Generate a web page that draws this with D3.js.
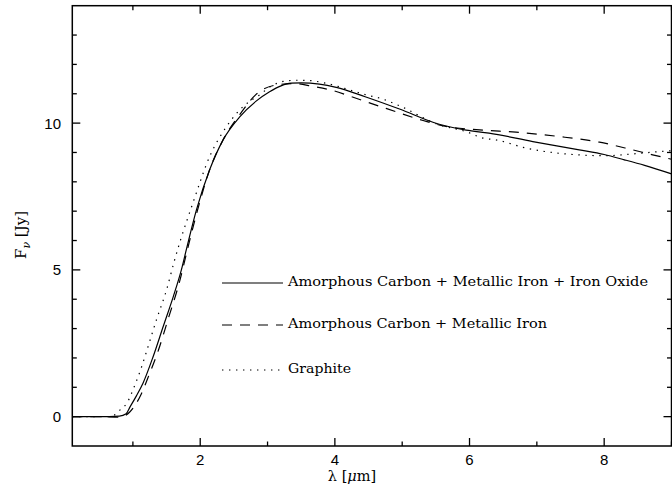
<!DOCTYPE html>
<html><head><meta charset="utf-8">
<script src="https://cdn.jsdelivr.net/npm/d3@7"></script>
<style>body{margin:0;background:#fff}svg{display:block}</style>
</head><body>
<svg id="c" width="672" height="487"></svg>
<script>
// ---- data ----
const seriesNames = ["Amorphous Carbon + Metallic Iron + Iron Oxide", "Amorphous Carbon + Metallic Iron", "Graphite"];
const solidX = [0.1,0.5,0.8,0.9,0.96,1.05,1.15,1.30,1.45,1.60,1.72,1.80,1.945,2.14,2.34,2.59,2.83,3.03,3.2,3.35,3.5,3.77,4.02,4.45,4.96,5.55,5.95,6.29,6.94,7.63,8.0,8.3,8.6,9.0];
const solidY = [0,0,0.02,0.1,0.34,0.7,1.14,2.04,3.07,4.09,5.0,5.75,7.05,8.41,9.43,10.22,10.75,11.07,11.27,11.36,11.37,11.33,11.22,10.9,10.48,9.96,9.76,9.66,9.37,9.09,8.93,8.75,8.56,8.27];
const dashX = [0.1,0.5,0.8,0.95,1.05,1.13,1.25,1.38,1.52,1.70,1.80,1.95,2.14,2.34,2.59,2.83,3.13,3.4,3.67,3.97,4.22,4.76,5.31,5.60,6.15,6.69,7.34,7.93,8.42,8.72,9.0];
const dashY = [0,0,-0.02,0.15,0.45,0.8,1.48,2.27,3.30,4.66,5.6,6.95,8.41,9.43,10.3,10.98,11.3,11.35,11.25,11.11,10.92,10.5,10.09,9.91,9.77,9.69,9.54,9.35,9.09,8.92,8.77];
const dotX = [0.1,0.6,0.72,0.81,0.91,1.03,1.13,1.20,1.35,1.50,1.62,1.70,1.89,2.14,2.39,2.64,2.88,3.05,3.23,3.43,3.62,3.82,3.97,4.22,4.47,4.71,4.96,5.55,5.95,6.20,6.39,6.84,7.43,8.03,8.42,8.82,9.0];
const dotY = [0,0,0.05,0.23,0.46,1.08,1.70,2.2,3.30,4.32,5.34,5.96,7.27,8.86,9.88,10.57,10.96,11.25,11.42,11.46,11.45,11.38,11.3,11.13,10.96,10.82,10.59,9.94,9.71,9.49,9.43,9.15,8.95,8.89,8.95,9.03,9.06];
const xTickLabels = [2,4,6,8];
const yTickLabels = [0,5,10];

// ---- layout ----
const svg = d3.select("#c");
const L = 72.3, R = 671.5, T = 5.7, B = 446;
const x = d3.scaleLinear().domain([0.1, 9.0]).range([L, R]);
const y = d3.scaleLinear().domain([-1, 14]).range([B, T]);

const styles = [
  {dash: null},
  {dash: "10,8"},
  {dash: "1.4,5.6"}
];
const series = [
  solidX.map((v,i)=>[v, solidY[i]]),
  dashX.map((v,i)=>[v, dashY[i]]),
  dotX.map((v,i)=>[v, dotY[i]])
];

const line = d3.line().x(d=>x(d[0])).y(d=>y(d[1])).curve(d3.curveMonotoneX);
const plot = svg.append("g");
series.forEach((s,i)=>{
  plot.append("path").attr("d", line(s)).attr("fill","none")
    .attr("stroke","#000").attr("stroke-width",1.2)
    .attr("stroke-dasharray", styles[i].dash);
});

// axes (ticks inward on all sides)
const ax = svg.append("g").attr("stroke","#000").attr("stroke-width",1.3);
const xt = d3.range(1, 10);
const yt = d3.range(0, 14);
xt.forEach(v=>{
  const len = v % 2 === 0 ? 8 : 4.5;
  ax.append("line").attr("x1",x(v)).attr("x2",x(v)).attr("y1",B).attr("y2",B-len);
  ax.append("line").attr("x1",x(v)).attr("x2",x(v)).attr("y1",T).attr("y2",T+len);
});
yt.forEach(v=>{
  const len = v % 5 === 0 ? 8 : 4.5;
  ax.append("line").attr("x1",L).attr("x2",L+len).attr("y1",y(v)).attr("y2",y(v));
  ax.append("line").attr("x1",R).attr("x2",R-len).attr("y1",y(v)).attr("y2",y(v));
});
svg.append("rect").attr("x",L).attr("y",T).attr("width",R-L).attr("height",B-T)
  .attr("fill","none").attr("stroke","#000").attr("stroke-width",1.5);

const tickFont = "'Liberation Sans', Arial, sans-serif";
svg.append("g").selectAll("text").data(xTickLabels).join("text")
  .attr("x", d=>x(d)).attr("y", 465).attr("text-anchor","middle")
  .attr("font-family", tickFont).attr("font-size", 15).text(d=>d);
svg.append("g").selectAll("text").data(yTickLabels).join("text")
  .attr("x", 61).attr("y", d=>y(d)+5.5).attr("text-anchor","end")
  .attr("font-family", tickFont).attr("font-size", 15).text(d=>d);

// axis titles
const serif = "'DejaVu Serif', 'Liberation Serif', serif";
const xl = svg.append("text").attr("x", 352).attr("y", 481).attr("text-anchor","middle")
  .attr("font-family", serif).attr("font-size", 14.5);
xl.append("tspan").text("λ [");
xl.append("tspan").attr("font-style","italic").text("μ");
xl.append("tspan").text("m]");

const yl = svg.append("text").attr("transform","translate(26,235) rotate(-90)")
  .attr("text-anchor","middle").attr("font-family", serif).attr("font-size", 15);
yl.append("tspan").text("F");
yl.append("tspan").attr("font-size",11).attr("dy",4).attr("font-style","italic").text("ν");
yl.append("tspan").attr("dy",-4).text(" [Jy]");

// legend
const legY = [283, 325, 370];
const legW = [360, 259, 63];
const leg = svg.append("g");
seriesNames.forEach((n,i)=>{
  leg.append("line").attr("x1",222).attr("x2",283).attr("y1",legY[i]).attr("y2",legY[i])
    .attr("stroke","#000").attr("stroke-width",1.2).attr("stroke-dasharray", styles[i].dash);
  leg.append("text").attr("x",288).attr("y",legY[i]+3).attr("font-family", serif)
    .attr("font-size",13.5).attr("textLength", legW[i]).attr("lengthAdjust","spacingAndGlyphs").text(n);
});
</script>
</body></html>
